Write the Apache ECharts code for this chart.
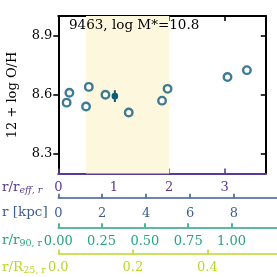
<!DOCTYPE html>
<html><head><meta charset="utf-8">
<script src="https://cdn.jsdelivr.net/npm/echarts@6/dist/echarts.min.js"></script>
<style>html,body{margin:0;padding:0;background:#fff}#c{width:277px;height:277px}</style>
</head><body><div id="c"></div>
<script>
// Data
var rEff = [0.15, 0.20, 0.50, 0.55, 0.85, 1.27, 1.87, 1.97, 3.05, 3.40];
var logOH = [8.56, 8.61, 8.54, 8.64, 8.60, 8.51, 8.57, 8.63, 8.69, 8.725];
var meanPoint = [1.02, 8.593];
var meanErr = [0.03];
var shadeRange = [0.5, 2.0];
var yTicks = [8.3, 8.6, 8.9];
var effTicks = [0, 1, 2, 3];
var kpcTicks = [0, 2, 4, 6, 8];
var r90Ticks = [0, 0.25, 0.5, 0.75, 1.0];
var r25Ticks = [0, 0.2, 0.4];
var title = '9463, log M*=10.8';

var FONT = 'DejaVu Serif';
var cPurple = '#5a3a92', cBlue = '#3e5f8e', cGreen = '#27a37f', cYel = '#bcd62a';
var mk = '#0d5a79';
var L = 58.3, W = 221;
var effPx = 55.47, kpcPx = 22.19, r90Px = 175.0, r25Px = 376.75;

var chart = echarts.init(document.getElementById('c'), null, {renderer: 'canvas'});
function subAxis(gi, ticks, max, color, fmt, margin) {
  return {
    type: 'value', gridIndex: gi, min: 0, max: max, position: 'bottom',
    axisLine: {show: true, lineStyle: {color: color, width: 1.6}},
    axisTick: {show: true, inside: true, length: 4, customValues: ticks, lineStyle: {color: color, width: 1.6}},
    axisLabel: {customValues: ticks, color: color, fontFamily: FONT, fontSize: 13, margin: margin, formatter: fmt},
    splitLine: {show: false}
  };
}
var option = {
  animation: false,
  grid: [
    {left: L, top: 16, width: 207.5, height: 157.5},
    {left: L, top: 196.7, width: W, height: 1},
    {left: L, top: 226.3, width: W, height: 1},
    {left: L, top: 252.5, width: W, height: 1}
  ],
  xAxis: [
    {type: 'value', gridIndex: 0, min: 0, max: 207.5 / effPx, position: 'bottom',
     axisLine: {show: true, onZero: false, lineStyle: {color: cPurple, width: 2}},
     axisTick: {show: true, inside: true, length: 5, customValues: effTicks, lineStyle: {color: cPurple, width: 1.6}},
     axisLabel: {customValues: effTicks, color: cPurple, fontFamily: FONT, fontSize: 13, margin: 8},
     splitLine: {show: false}},
    {type: 'value', gridIndex: 0, min: 0, max: 207.5 / effPx, position: 'top',
     axisLine: {show: true, onZero: false, lineStyle: {color: '#000', width: 2}},
     axisTick: {show: true, inside: true, length: 5, customValues: effTicks, lineStyle: {color: '#000', width: 1.6}},
     axisLabel: {show: false}, splitLine: {show: false}},
    subAxis(1, kpcTicks, W / kpcPx, cBlue, function (v) { return String(v); }, 9),
    subAxis(2, r90Ticks, W / r90Px, cGreen, function (v) { return v.toFixed(2); }, 8),
    subAxis(3, r25Ticks, W / r25Px, cYel, function (v) { return v.toFixed(1); }, 8)
  ],
  yAxis: [
    {type: 'value', gridIndex: 0, min: 8.2, max: 9.0, position: 'left',
     axisLine: {show: true, onZero: false, lineStyle: {color: '#000', width: 2}},
     axisTick: {show: true, inside: false, length: 5, customValues: yTicks, lineStyle: {color: '#000', width: 1.6}},
     axisLabel: {customValues: yTicks, color: '#000', fontFamily: FONT, fontSize: 13, margin: 6,
                 formatter: function (v) { return v.toFixed(1); }},
     splitLine: {show: false}},
    {type: 'value', gridIndex: 0, min: 8.2, max: 9.0, position: 'right',
     axisLine: {show: true, onZero: false, lineStyle: {color: '#000', width: 2}},
     axisTick: {show: true, inside: true, length: 5, customValues: yTicks, lineStyle: {color: '#000', width: 1.6}},
     axisLabel: {show: false}, splitLine: {show: false}},
    {type: 'value', gridIndex: 1, show: false, min: 0, max: 1},
    {type: 'value', gridIndex: 2, show: false, min: 0, max: 1},
    {type: 'value', gridIndex: 3, show: false, min: 0, max: 1}
  ],
  series: [
    {type: 'scatter', xAxisIndex: 0, yAxisIndex: 0, z: 3,
     data: rEff.map(function (x, i) { return [x, logOH[i]]; }),
     symbol: 'circle', symbolSize: 7.5,
     itemStyle: {color: '#fff', borderColor: mk, borderWidth: 2.4},
     markArea: {silent: true, itemStyle: {color: '#fdf8dd'},
                data: [[{xAxis: shadeRange[0]}, {xAxis: shadeRange[1]}]]}},
    {type: 'custom', xAxisIndex: 0, yAxisIndex: 0, z: 4,
     data: [[meanPoint[0], meanPoint[1], meanErr[0]]],
     renderItem: function (params, api) {
       var x = api.value(0), y = api.value(1), e = api.value(2);
       var p0 = api.coord([x, y - e]), p1 = api.coord([x, y + e]), c = api.coord([x, y]);
       return {type: 'group', children: [
         {type: 'line', shape: {x1: p0[0], y1: p0[1], x2: p1[0], y2: p1[1]}, style: {stroke: mk, lineWidth: 2}},
         {type: 'circle', shape: {cx: c[0], cy: c[1], r: 3.3}, style: {fill: mk}}
       ]};
     }}
  ],
  graphic: [
    {type: 'text', left: 69, top: 18, z: 10, style: {text: title, fontFamily: FONT, fontSize: 13.5, fill: '#000'}},
    {type: 'text', x: 13, y: 95, rotation: Math.PI / 2, z: 10,
     style: {text: '12 + log O/H', fontFamily: FONT, fontSize: 13, fill: '#000', align: 'center', verticalAlign: 'middle'}},
    {type: 'text', x: 2, y: 187, z: 10,
     style: {text: 'r/r{s|eff, r}', fontFamily: FONT, fontSize: 13.5, fill: cPurple, verticalAlign: 'middle',
             rich: {s: {fontFamily: FONT, fontSize: 9.5, fontStyle: 'italic', fill: cPurple, padding: [7, 0, 0, 0]}}}},
    {type: 'text', x: 2, y: 212.5, z: 10,
     style: {text: 'r [kpc]', fontFamily: FONT, fontSize: 13.5, fill: cBlue, verticalAlign: 'middle'}},
    {type: 'text', x: 2, y: 240.5, z: 10,
     style: {text: 'r/r{s|90, r}', fontFamily: FONT, fontSize: 13.5, fill: cGreen, verticalAlign: 'middle',
             rich: {s: {fontFamily: FONT, fontSize: 9.5, fill: cGreen, padding: [7, 0, 0, 0]}}}},
    {type: 'text', x: 2, y: 267, z: 10,
     style: {text: 'r/R{s|25, r}', fontFamily: FONT, fontSize: 13.5, fill: cYel, verticalAlign: 'middle',
             rich: {s: {fontFamily: FONT, fontSize: 9.5, fill: cYel, padding: [7, 0, 0, 0]}}}}
  ]
};
chart.setOption(option);
</script></body></html>
